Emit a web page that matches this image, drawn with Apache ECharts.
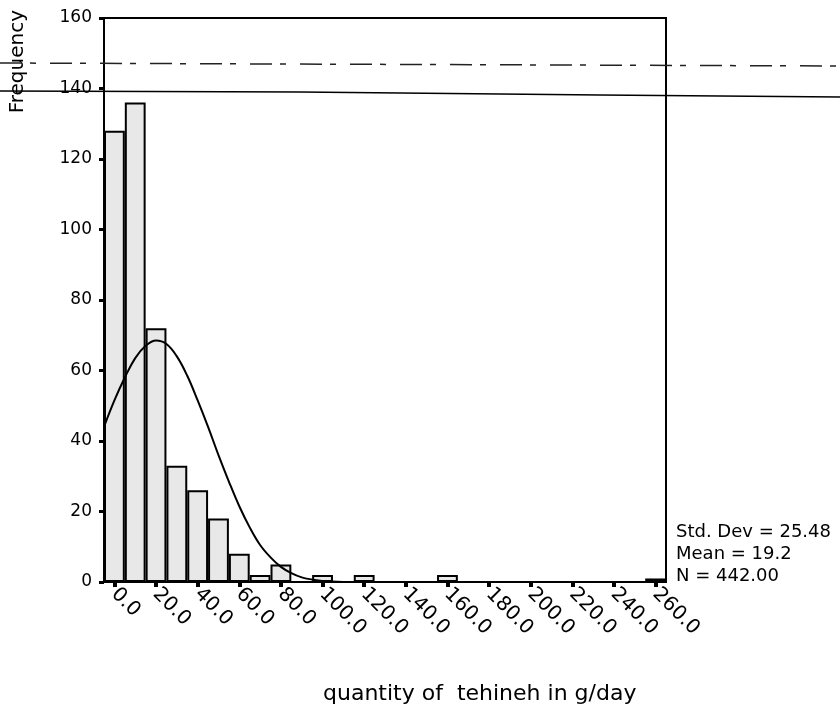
<!DOCTYPE html>
<html>
<head>
<meta charset="utf-8">
<script src="https://cdn.jsdelivr.net/npm/echarts@6/dist/echarts.min.js"></script>
<style>
  html, body { margin: 0; padding: 0; background: #fff; }
  #chart { width: 840px; height: 710px; }
</style>
</head>
<body>
<div id="chart"></div>
<script>
// histogram bins (bin centres, width 10 g/day)
const binCentres = [0, 10, 20, 30, 40, 50, 60, 70, 80, 90, 100, 110, 120, 130,
  140, 150, 160, 170, 180, 190, 200, 210, 220, 230, 240, 250, 260];
const binCounts = [128, 136, 72, 33, 26, 18, 8, 2, 5, 0, 2, 0, 2, 0,
  0, 0, 2, 0, 0, 0, 0, 0, 0, 0, 0, 0, 1];

// normal curve: [g/day, frequency]
const curveX = [-5, 0, 5, 10, 15, 20, 25, 30, 35, 40, 45, 50, 55, 60, 65, 70, 75, 80, 85, 90, 95, 100, 110];
const curveY = [44, 51.5, 58, 63.5, 67, 68.5, 67.5, 64, 58.5, 51.5, 44, 36, 28.5, 21.5, 15.5, 10.5, 7, 4.3, 2.5, 1.3, 0.7, 0.3, 0];

const stats = ["Std. Dev = 25.48", "Mean = 19.2", "N = 442.00"];

const FONT = "DejaVu Sans";

const chart = echarts.init(document.getElementById("chart"), null, { renderer: "canvas" });

const option = {
  backgroundColor: "#fff",
  animation: false,
  grid: {
    left: 104, right: 174, top: 18, bottom: 128,
    show: true, borderColor: "#000", borderWidth: 2, backgroundColor: "transparent"
  },
  xAxis: [
    {
      type: "category",
      data: binCentres.map((v) => v.toFixed(1)),
      boundaryGap: true,
      axisLine: { show: true, onZero: false, lineStyle: { color: "#000", width: 2 } },
      axisTick: { show: true, interval: 1, alignWithLabel: true, length: 5, lineStyle: { color: "#000", width: 4 } },
      axisLabel: {
        interval: 1, rotate: -45, margin: 9,
        color: "#000", fontFamily: FONT, fontSize: 20
      },
      splitLine: { show: false }
    },
    {
      // hidden continuous axis for the fitted curve
      type: "value", min: -5, max: 265, show: false,
      axisLine: { onZero: false }
    }
  ],
  yAxis: {
    type: "value",
    min: 0, max: 160, interval: 20,
    axisLine: { show: true, onZero: false, lineStyle: { color: "#000", width: 2 } },
    axisTick: { show: true, length: 5, lineStyle: { color: "#000", width: 3 } },
    axisLabel: { color: "#000", fontFamily: FONT, fontSize: 17, margin: 12 },
    splitLine: { show: false }
  },
  series: [
    {
      name: "Frequency",
      type: "bar",
      xAxisIndex: 0,
      barWidth: "100%",
      data: binCounts,
      itemStyle: { color: "#e8e8e8", borderColor: "#000", borderWidth: 2 },
      z: 2
    },
    {
      name: "Normal",
      type: "line",
      xAxisIndex: 1,
      data: curveX.map((x, i) => [x, curveY[i]]),
      smooth: 0.4,
      showSymbol: false,
      lineStyle: { color: "#000", width: 2 },
      z: 3
    }
  ],
  graphic: [
    // scan artefacts across the page
    {
      type: "polyline", silent: true, z: 10,
      shape: { points: [[0, 91], [300, 92], [600, 95], [840, 97]] },
      style: { stroke: "#000", lineWidth: 1.5, fill: null }
    },
    {
      type: "line", silent: true, z: 10,
      shape: { x1: 0, y1: 63, x2: 840, y2: 66 },
      style: { stroke: "#222", lineWidth: 1.5, lineDash: [22, 8, 6, 14] }
    },
    {
      type: "text", left: 8, top: 10, rotation: Math.PI / 2,
      style: { text: "Frequency", font: "20px " + FONT, fill: "#000" }
    },
    {
      type: "text", left: 323, top: 683,
      style: { text: "quantity of  tehineh in g/day", font: "22px " + FONT, fill: "#000" }
    },
    ...stats.map((s, i) => ({
      type: "text", left: 676, top: 523 + i * 22,
      style: { text: s, font: "18px " + FONT, fill: "#000" }
    }))
  ]
};

chart.setOption(option);
</script>
</body>
</html>
